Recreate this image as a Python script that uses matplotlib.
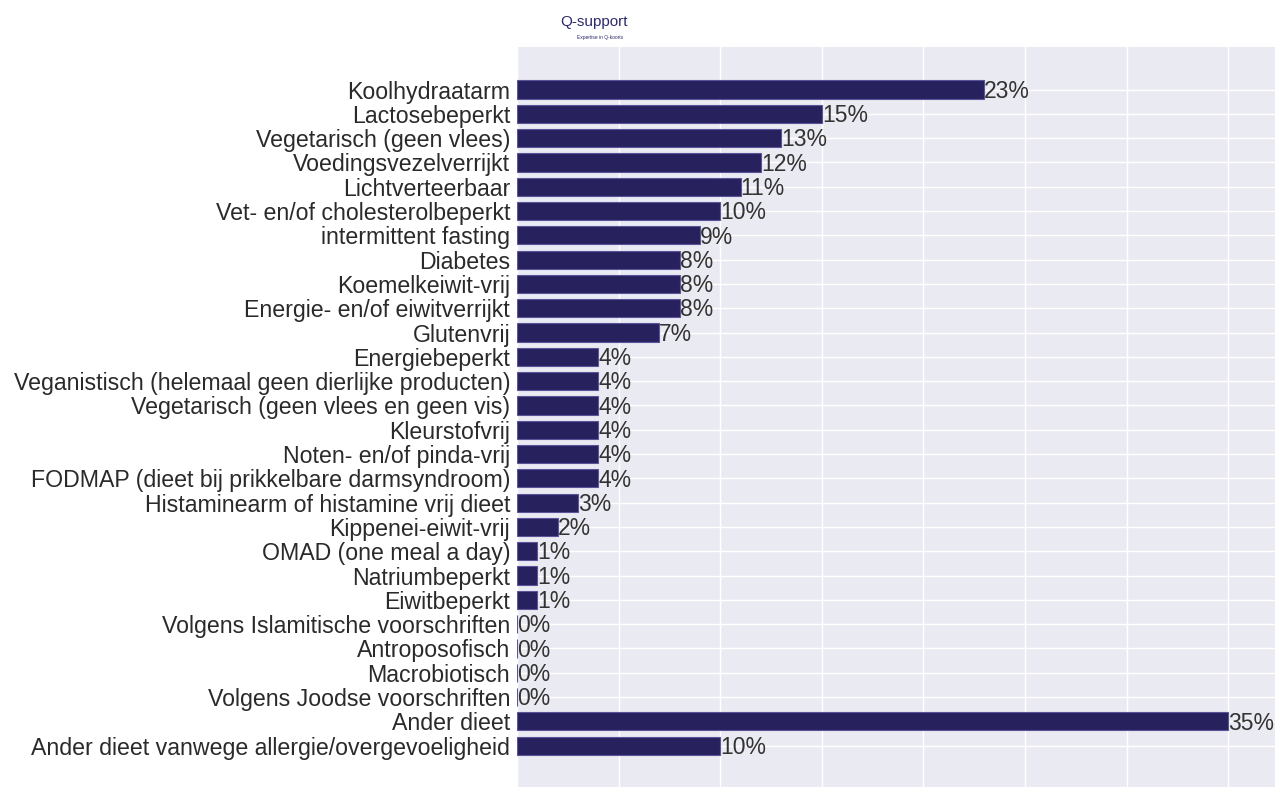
import matplotlib
matplotlib.use("Agg")
import matplotlib.pyplot as plt
import numpy as np

categories = [
    "Koolhydraatarm",
    "Lactosebeperkt",
    "Vegetarisch (geen vlees)",
    "Voedingsvezelverrijkt",
    "Lichtverteerbaar",
    "Vet- en/of cholesterolbeperkt",
    "intermittent fasting",
    "Diabetes",
    "Koemelkeiwit-vrij",
    "Energie- en/of eiwitverrijkt",
    "Glutenvrij",
    "Energiebeperkt",
    "Veganistisch (helemaal geen dierlijke producten)",
    "Vegetarisch (geen vlees en geen vis)",
    "Kleurstofvrij",
    "Noten- en/of pinda-vrij",
    "FODMAP (dieet bij prikkelbare darmsyndroom)",
    "Histaminearm of histamine vrij dieet",
    "Kippenei-eiwit-vrij",
    "OMAD (one meal a day)",
    "Natriumbeperkt",
    "Eiwitbeperkt",
    "Volgens Islamitische voorschriften",
    "Antroposofisch",
    "Macrobiotisch",
    "Volgens Joodse voorschriften",
    "Ander dieet",
    "Ander dieet vanwege allergie/overgevoeligheid",
]
values = [23, 15, 13, 12, 11, 10, 9, 8, 8, 8, 7, 4, 4, 4, 4, 4, 4, 3, 2, 1, 1, 1, 0, 0, 0, 0, 35, 10]

plt.rcParams['font.family'] = ['Liberation Sans', 'DejaVu Sans']

fig = plt.figure(figsize=(12.85, 7.87), dpi=100)
ax = fig.add_axes([0.4023, 0.0, 0.5899, 0.9403])
ax.set_facecolor("#eaeaf2")

y = np.arange(len(categories))
ax.barh(y, values, height=0.75, color="#27225e", edgecolor="#5a5598", linewidth=0.8, zorder=3)
for yi, v in zip(y, values):
    ax.text(v, yi + 0.07, f"{v}%", va="center", ha="left", fontsize=16.5, color="#333333", zorder=4)

ax.set_yticks(y)
ax.set_yticklabels(categories, fontsize=16.7, color="#2a2a2a")
ax.set_ylim(len(categories) - 1 + 1.7, -1.75)
ax.set_xlim(0, 37.3)
ax.set_xticks(np.arange(0, 36, 5))
ax.set_xticklabels([])
ax.tick_params(axis="both", length=0, pad=5)
ax.grid(True, color="white", linewidth=1.0, zorder=0)
for s in ax.spines.values():
    s.set_visible(False)

# Logo text
fig.text(0.436, 0.972, "Q-support", fontsize=11, color="#2b2a6b", ha="left", va="center")
fig.text(0.449, 0.952, "Expertise in Q-koorts", fontsize=3.5, color="#2b2a6b", ha="left", va="center")

fig.savefig("out.png", dpi=100)
